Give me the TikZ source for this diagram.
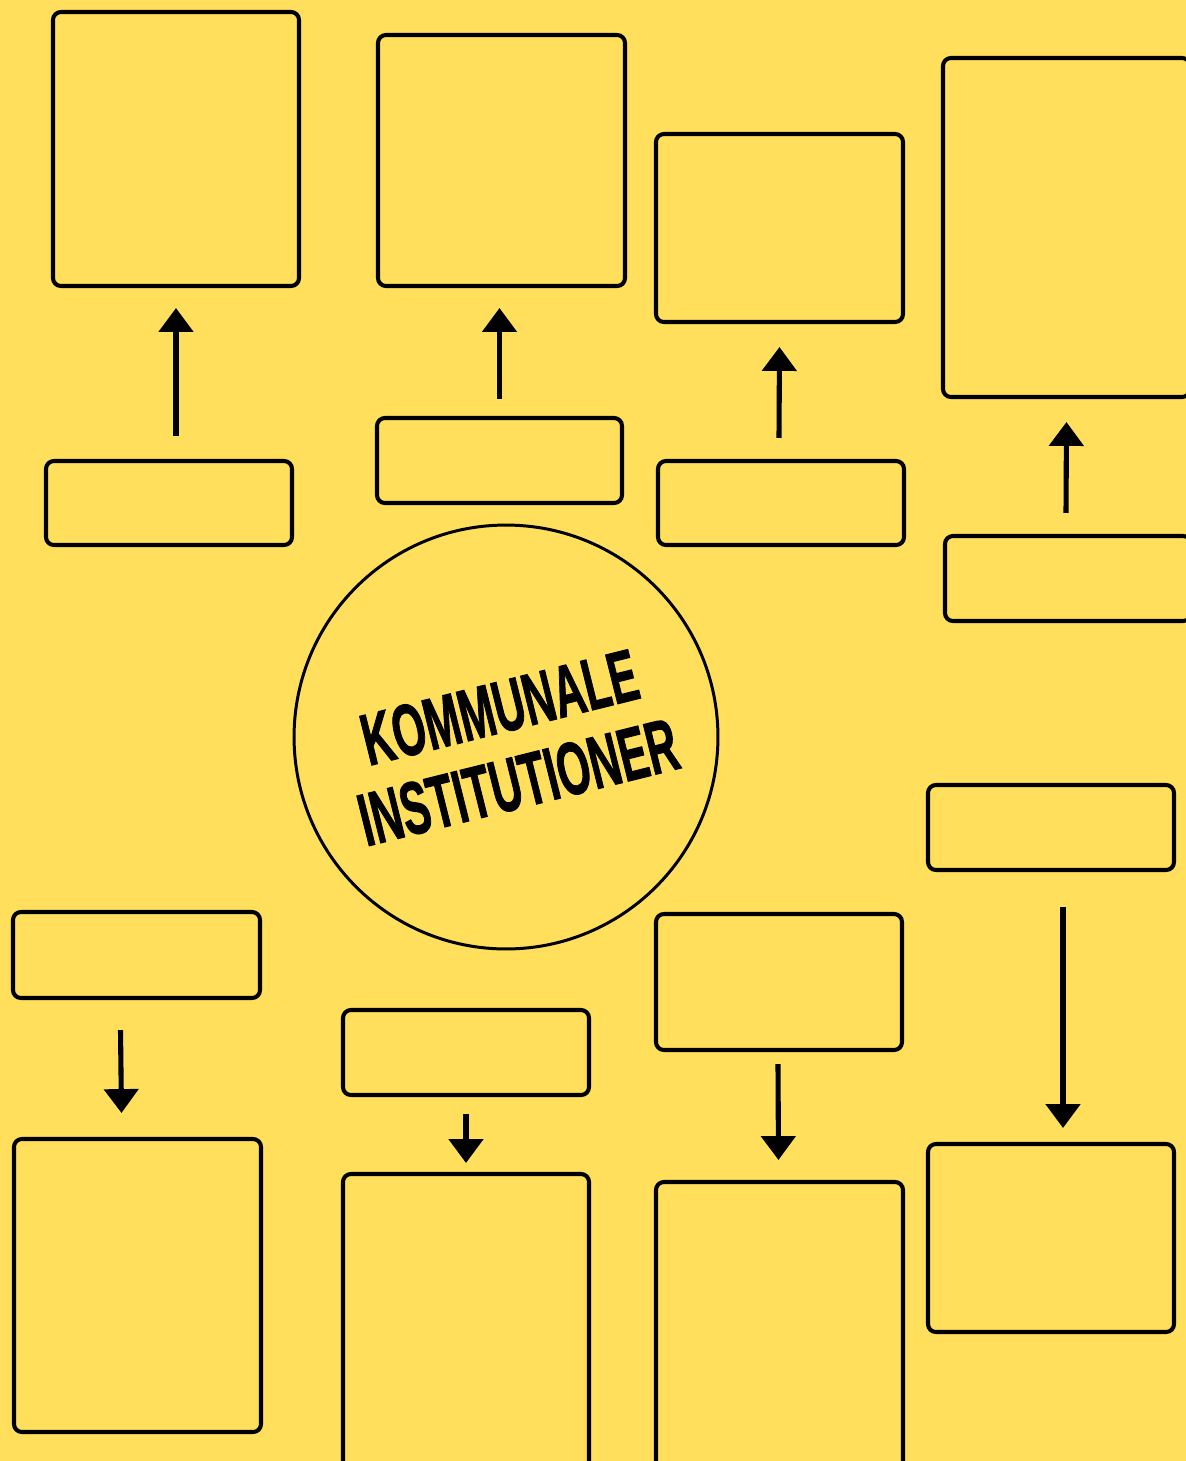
\documentclass[tikz,border=0pt]{standalone}
\usepackage{fontspec}
\setmainfont{Liberation Sans}
\newfontfamily\heavy{Liberation Sans}[BoldFont={Liberation Sans Bold}, BoldFeatures={FakeBold=1.6}]
\usepackage{graphicx}
\usetikzlibrary{arrows.meta,calc}
\definecolor{bg}{RGB}{255,223,91}
\tikzset{
  cell/.style 2 args={draw, rounded corners=4.5pt, line width=2.3pt, inner sep=0pt, minimum width=#1*0.02cm, minimum height=#2*0.02cm},
  hub/.style={draw, circle, line width=1.7pt, inner sep=0pt, minimum size=8.48cm},
  pt/.style={line width=2.9pt, -{Triangle[width=19.3pt, length=13.6pt]}},
  ttl/.style={inner sep=0pt, rotate=14, align=center, font=\heavy\bfseries\fontsize{10}{44.2pt}\selectfont}
}
\begin{document}
\begin{tikzpicture}[x=0.02cm, y=-0.02cm]
\useasboundingbox (0,0) rectangle (1186,1461);
\clip (0,0) rectangle (1186,1461);
\fill[bg] (0,0) rectangle (1186,1461);
% upper half
\node[cell={246}{274}] (T1) at (176,149) {};
\node[cell={247}{251}] (T2) at (501.5,160.5) {};
\node[cell={247}{188}] (T3) at (779.5,228) {};
\node[cell={247}{339}] (T4) at (1066.5,227.5) {};
\node[cell={246}{84}] (S1) at (169,503) {};
\node[cell={245}{85}] (S2) at (499.5,460.5) {};
\node[cell={246}{84}] (S3) at (781,503) {};
\node[cell={246}{85}] (S4) at (1068,578.5) {};
\draw[pt] ($(S1.north)+(7,-23)$) -- ($(T1.south)+(0,20)$);
\draw[pt] ($(S2.north)+(0,-17)$) -- ($(T2.south)+(-2,20)$);
\draw[pt] ($(S3.north)+(-2,-21)$) -- ($(T3.south)+(0,23)$);
\draw[pt] ($(S4.north)+(-2,-21)$) -- ($(T4.south)+(0,23)$);
% centre
\node[hub] (hub) at (506,737) {};
\node[ttl] (title) at (509,745) {\resizebox{5.64cm}{1.02cm}{KOMMUNALE}\\\resizebox{6.52cm}{1.04cm}{INSTITUTIONER}};
% lower half
\node[cell={246}{85}] (S5) at (1051,827.5) {};
\node[cell={247}{86}] (S6) at (136.5,955) {};
\node[cell={246}{85}] (S7) at (466,1052.5) {};
\node[cell={246}{136}] (M3) at (779,982) {};
\node[cell={247}{293}] (B1) at (137.5,1285.5) {};
\node[cell={246}{300}] (B2) at (466,1324) {};
\node[cell={247}{298}] (B3) at (779.5,1331) {};
\node[cell={246}{188}] (B4) at (1051,1238) {};
\draw[pt] ($(S6.south)+(-16,30)$) -- ($(B1.north)+(-16,-24)$);
\draw[pt] ($(S7.south)+(0,17)$) -- ($(B2.north)+(0,-9)$);
\draw[pt] ($(M3.south)+(-1,12)$) -- ($(B3.north)+(-1,-20)$);
\draw[pt] ($(S5.south)+(12,35)$) -- ($(B4.north)+(12,-14)$);
\end{tikzpicture}
\end{document}
